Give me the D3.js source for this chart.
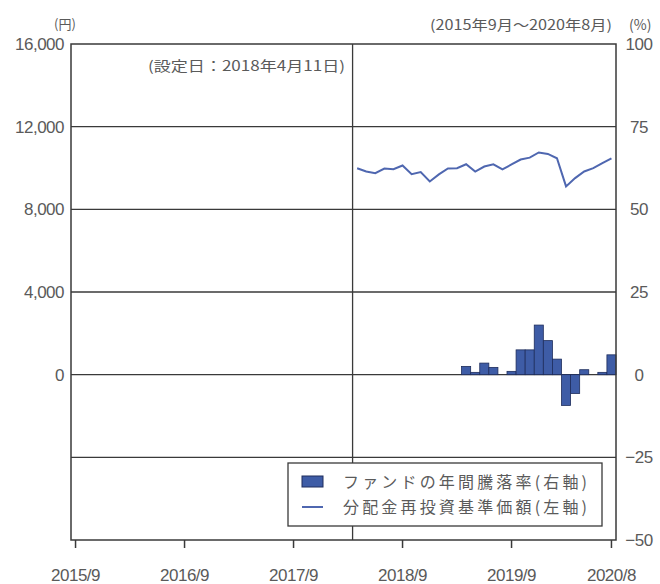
<!DOCTYPE html>
<html>
<head>
<meta charset="utf-8">
<script src="https://cdn.jsdelivr.net/npm/d3@7"></script>
<style>
  body { margin: 0; background: #fff; }
  svg { display: block; font-family: "Noto Sans CJK JP", "Noto Sans", sans-serif; }
</style>
</head>
<body>
<script>
// months from 2015/9 to 2020/8
const months = d3.timeMonth.range(new Date(2015, 8, 1), new Date(2020, 8, 1))
  .map(d => `${d.getFullYear()}/${d.getMonth() + 1}`);

const xTickLabels = ["2015/9", "2016/9", "2017/9", "2018/9", "2019/9", "2020/8"];
const leftTicks = [16000, 12000, 8000, 4000, 0];
const rightTicks = [100, 75, 50, 25, 0, -25, -50];
const gridValues = [12000, 8000, 4000, 0, -4000];

// 分配金再投資基準価額 (円), 2018/4 - 2020/8
const navStart = "2018/4";
const navValues = [9990, 9830, 9750, 9975, 9940, 10120, 9700, 9800, 9350, 9690,
  9975, 9990, 10180, 9830, 10070, 10180, 9930, 10170, 10410, 10500,
  10750, 10680, 10470, 9110, 9510, 9830, 9990, 10230, 10470];

// ファンドの年間騰落率 (%), 2019/4 - 2020/8
const retStart = "2019/4";
const retValues = [2.5, 0.7, 3.5, 2.2, 0, 1.0, 7.5, 7.5, 15.0, 10.3, 4.7, -9.3, -5.7, 1.5, 0, 0.7, 6.0];

const settingMonth = "2018/4";

const W = 660, H = 584;
const margin = { top: 44, right: 44, bottom: 44, left: 71 };
const width = W - margin.left - margin.right;
const height = H - margin.top - margin.bottom;

const svg = d3.select("body").append("svg")
  .attr("width", W)
  .attr("height", H);

const g = svg.append("g")
  .attr("transform", `translate(${margin.left},${margin.top})`);

const x = d3.scaleBand().domain(months).range([0, width]);
const yL = d3.scaleLinear().domain([-8000, 16000]).range([height, 0]);
const yR = d3.scaleLinear().domain([-50, 100]).range([height, 0]);

const textColor = "#5a5a5a";
const lineColor = "#3a3a3a";

// grid lines
g.selectAll(".grid").data(gridValues).enter().append("line")
  .attr("x1", 0).attr("x2", width)
  .attr("y1", d => yL(d)).attr("y2", d => yL(d))
  .attr("stroke", lineColor).attr("stroke-width", 1.3);

// bars
const si = months.indexOf(retStart);
g.selectAll(".bar").data(retValues).enter().append("rect")
  .attr("x", (d, i) => x(months[si + i]))
  .attr("width", x.bandwidth())
  .attr("y", d => Math.min(yR(d), yR(0)))
  .attr("height", d => Math.abs(yR(d) - yR(0)))
  .attr("fill", "#3e5ca6")
  .attr("stroke", "#1e2d5c")
  .attr("stroke-width", 0.8);

// line
const ni = months.indexOf(navStart);
const line = d3.line()
  .x((d, i) => x(months[ni + i]) + x.bandwidth() / 2)
  .y(d => yL(d));
g.append("path").datum(navValues)
  .attr("d", line)
  .attr("fill", "none")
  .attr("stroke", "#4f67b0")
  .attr("stroke-width", 2);

// setting date line
g.append("line")
  .attr("x1", x(settingMonth)).attr("x2", x(settingMonth))
  .attr("y1", 0).attr("y2", height)
  .attr("stroke", lineColor).attr("stroke-width", 1.3);

// frame
g.append("rect")
  .attr("width", width).attr("height", height)
  .attr("fill", "none").attr("stroke", lineColor).attr("stroke-width", 1.5);

// x axis
const xAxis = g.append("g")
  .attr("transform", `translate(0,${height})`)
  .call(d3.axisBottom(x).tickValues(xTickLabels).tickSize(8).tickPadding(21));
xAxis.select(".domain").remove();
xAxis.selectAll("line").attr("stroke", lineColor).attr("stroke-width", 1.5);
xAxis.selectAll("text").attr("fill", textColor).style("font-size", "17px").style("letter-spacing", "-0.5px");

// left axis
const leftAxis = g.append("g")
  .call(d3.axisLeft(yL).tickValues(leftTicks).tickSize(0).tickPadding(7).tickFormat(d3.format(",")));
leftAxis.select(".domain").remove();
leftAxis.selectAll("text").attr("fill", textColor).style("font-size", "17px").style("letter-spacing", "-0.5px");

// right axis
const rightAxis = g.append("g")
  .attr("transform", `translate(${width},0)`)
  .call(d3.axisRight(yR).tickValues(rightTicks).tickSize(0).tickPadding(0));
rightAxis.select(".domain").remove();
rightAxis.selectAll("text")
  .attr("x", 23)
  .attr("text-anchor", "middle")
  .attr("fill", textColor).style("font-size", "17px").style("letter-spacing", "-0.5px");

// header texts
svg.append("text").attr("x", 65).attr("y", 29).attr("text-anchor", "middle")
  .attr("fill", textColor).style("font-size", "13px").text("(円)");
svg.append("text").attr("x", 629).attr("y", 30)
  .attr("fill", textColor).style("font-size", "14px").text("(%)");
svg.append("text").attr("x", 612).attr("y", 30).attr("text-anchor", "end")
  .attr("fill", textColor).style("font-size", "14px")
  .attr("textLength", 182).attr("lengthAdjust", "spacingAndGlyphs")
  .text("(2015年9月～2020年8月)");
svg.append("text").attr("x", 345).attr("y", 71).attr("text-anchor", "end")
  .attr("fill", textColor).style("font-size", "14px")
  .attr("textLength", 197).attr("lengthAdjust", "spacingAndGlyphs")
  .text("(設定日：2018年4月11日)");

// legend
const lg = svg.append("g");
lg.append("rect").attr("x", 288).attr("y", 463).attr("width", 314).attr("height", 63)
  .attr("fill", "#fff").attr("stroke", lineColor).attr("stroke-width", 1.3);
lg.append("rect").attr("x", 302).attr("y", 476).attr("width", 21).attr("height", 11)
  .attr("fill", "#3e5ca6").attr("stroke", "#1e2d5c").attr("stroke-width", 1);
lg.append("line").attr("x1", 302).attr("x2", 323).attr("y1", 507).attr("y2", 507)
  .attr("stroke", "#4f67b0").attr("stroke-width", 2);
lg.append("text").attr("x", 343).attr("y", 488)
  .attr("fill", textColor).style("font-size", "16px")
  .attr("textLength", 244).attr("lengthAdjust", "spacing")
  .text("ファンドの年間騰落率(右軸)");
lg.append("text").attr("x", 343).attr("y", 513)
  .attr("fill", textColor).style("font-size", "16px")
  .attr("textLength", 244).attr("lengthAdjust", "spacing")
  .text("分配金再投資基準価額(左軸)");
</script>
</body>
</html>
